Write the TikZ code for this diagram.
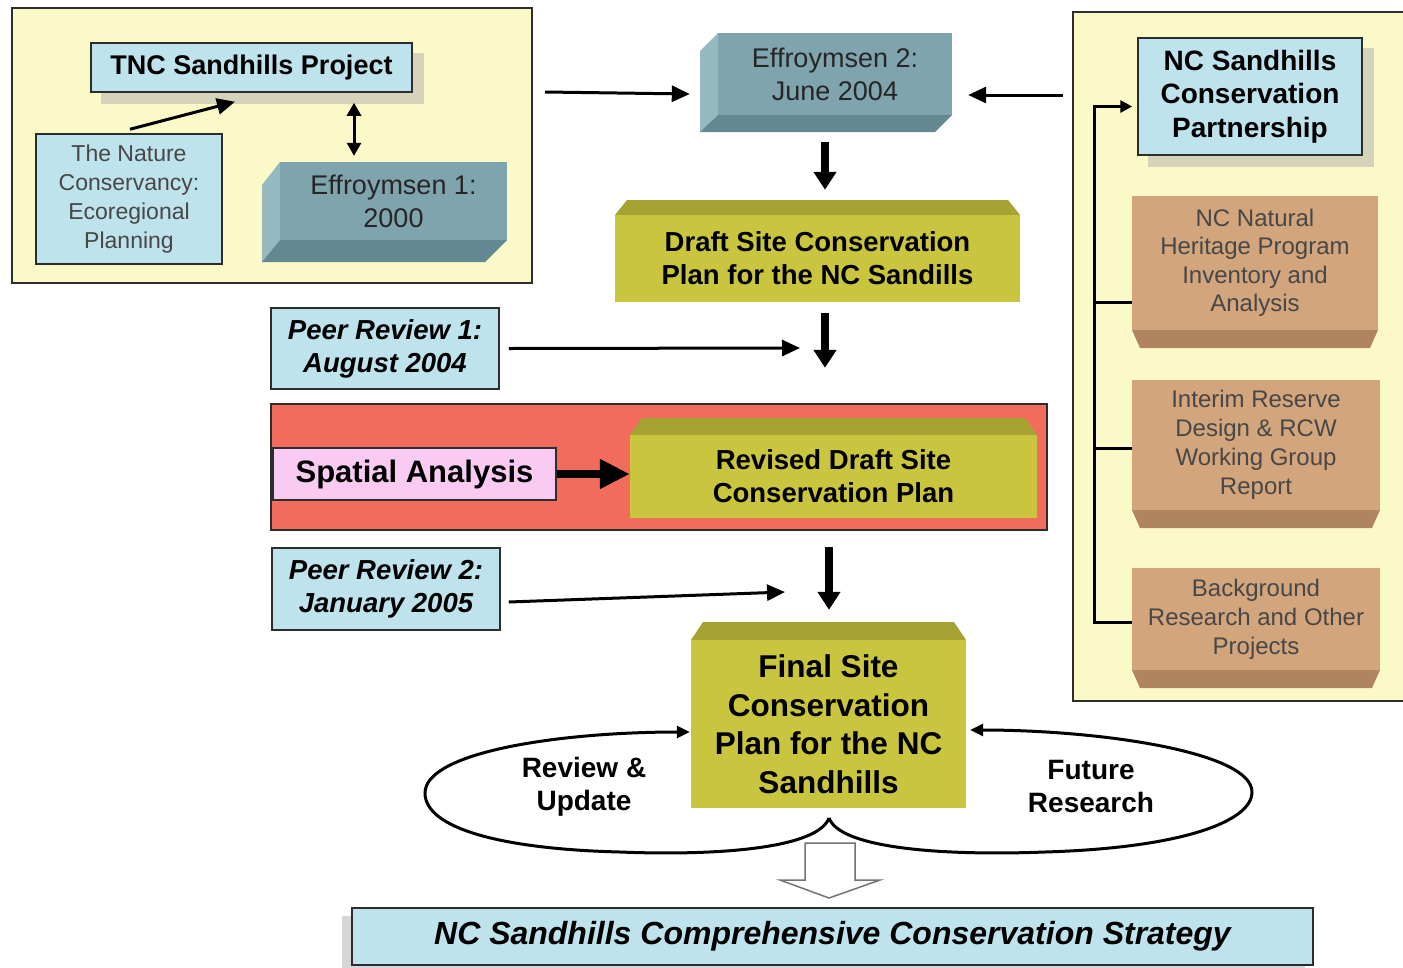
\documentclass[tikz,border=0pt]{standalone}
\usepackage{fontspec}
\setmainfont{Liberation Sans}
\usetikzlibrary{arrows.meta,calc}
\definecolor{panelY}{RGB}{252,249,201}
\definecolor{lblue}{RGB}{190,227,236}
\definecolor{effF}{RGB}{127,164,174}
\definecolor{effS}{RGB}{150,184,192}
\definecolor{effB}{RGB}{100,136,146}
\definecolor{oliveF}{RGB}{201,197,62}
\definecolor{oliveT}{RGB}{166,163,50}
\definecolor{tanF}{RGB}{211,165,124}
\definecolor{tanB}{RGB}{176,132,94}
\definecolor{redP}{RGB}{242,108,94}
\definecolor{pinkB}{RGB}{249,203,243}
\definecolor{edge}{RGB}{45,45,45}
\newcommand\myfs[2]{\fontsize{#1pt}{#2pt}\selectfont}
\begin{document}
\begin{tikzpicture}[x=1pt,y=-1pt,
  panel/.style={draw=edge,line width=1.5pt,fill=panelY,inner sep=0pt},
  box/.style={draw=edge,line width=1.5pt,inner sep=0pt,align=center},
  face/.style={inner sep=0pt,align=center},
  shadow/.style={fill=black!35,opacity=0.45},
  thinarr/.style={line width=3pt,-{Triangle[length=18pt,width=16pt]}},
  dblarr/.style={line width=3pt,{Triangle[length=13pt,width=14pt]}-{Triangle[length=13pt,width=14pt]}},
  thickarr/.style={line width=8pt,-{Triangle[length=18pt,width=22pt]}},
  looparr/.style={line width=3pt,-{Triangle[length=13pt,width=12pt]}},
  plain/.style={line width=3pt}]
\useasboundingbox (0,0) rectangle (1403,967);
\clip (0,0) rectangle (1403,967);
\fill[white] (0,0) rectangle (1403,967);

% panels
\node[panel,minimum width=520pt,minimum height=275pt] (lp) at (272,145.5) {};
\node[panel,minimum width=337pt,minimum height=689pt] (rp) at (1241.5,356.5) {};
\node[draw=edge,line width=1.5pt,fill=redP,inner sep=0pt,minimum width=776pt,minimum height=126pt] (rd) at (659,467) {};

% shadows
\fill[shadow] (101,53) rectangle (424,104);
\fill[shadow] (1148,48) rectangle (1374,167);
\fill[shadow] (342,916) rectangle (1305,970);

% left panel content
\node[box,fill=lblue,minimum width=321pt,minimum height=49pt,font=\bfseries\myfs{27}{32}] (tnc) at (251.5,67.5) {TNC Sandhills Project};
\node[box,fill=lblue,minimum width=186pt,minimum height=130pt,font=\myfs{23}{28.7},text=black!72] (tnco) at (129,199) {The Nature\\Conservancy:\\Ecoregional\\Planning};
\fill[effS] (262,185) -- (280,162) -- (280,240) -- (262,262) -- cycle;
\fill[effB] (262,262) -- (280,240) -- (507,240) -- (485,262) -- cycle;
\node[face,fill=effF,minimum width=227pt,minimum height=78pt,font=\myfs{27}{33},text=black!85] (eff1) at (393.5,201) {Effroymsen 1:\\2000};

% Effroymsen 2
\fill[effS] (700,51) -- (718,33) -- (718,115) -- (700,132) -- cycle;
\fill[effB] (700,132) -- (718,115) -- (952,115) -- (935,132) -- cycle;
\node[face,fill=effF,minimum width=234pt,minimum height=82pt,font=\myfs{27}{33},text=black!85] (eff2) at (835,74) {Effroymsen 2:\\June 2004};

% Draft
\fill[oliveT] (615,215) -- (627,200) -- (1008,200) -- (1020,215) -- cycle;
\node[face,fill=oliveF,minimum width=405pt,minimum height=87pt,font=\bfseries\myfs{27.5}{33}] (draft) at (817.5,258.5) {Draft Site Conservation\\Plan for the NC Sandills};

% Peer review 1
\node[box,fill=lblue,minimum width=228pt,minimum height=81pt,font=\bfseries\itshape\myfs{27.5}{33}] (peer1) at (385,348.5) {Peer Review 1:\\August 2004};

% Spatial / Revised
\node[box,fill=pinkB,minimum width=283pt,minimum height=52pt,font=\bfseries\myfs{31}{36}] (spatial) at (414.5,474) {Spatial Analysis};
\fill[oliveT] (630,435) -- (642,418) -- (1025,418) -- (1037,435) -- cycle;
\node[face,fill=oliveF,minimum width=407pt,minimum height=83pt,font=\bfseries\myfs{27.5}{33}] (rev) at (833.5,476.5) {Revised Draft Site\\Conservation Plan};

% Peer review 2
\node[box,fill=lblue,minimum width=228pt,minimum height=82pt,font=\bfseries\itshape\myfs{27.5}{33}] (peer2) at (386,589) {Peer Review 2:\\January 2005};

% Final
\fill[oliveT] (691,640) -- (703,622) -- (954,622) -- (966,640) -- cycle;
\node[face,fill=oliveF,minimum width=275pt,minimum height=168pt,font=\bfseries\myfs{31.5}{38.5}] (final) at (828.5,724) {Final Site\\Conservation\\Plan for the NC\\Sandhills};

\node[face,font=\bfseries\myfs{28}{33}] (review) at (584,787) {Review \&\\Update};
\node[face,font=\bfseries\myfs{28}{33}] (future) at (1091,786) {Future\\Research};

% bottom
\node[box,fill=lblue,minimum width=961pt,minimum height=57pt,font=\bfseries\itshape\myfs{32}{38}] (strat) at (832.5,936.5) {NC Sandhills Comprehensive Conservation Strategy};

% right panel content
\node[box,fill=lblue,minimum width=224pt,minimum height=117pt,font=\bfseries\myfs{28}{33.5}] (partner) at (1250,96.5) {NC Sandhills\\Conservation\\Partnership};
\fill[tanB] (1132,330) -- (1378,330) -- (1370,348) -- (1140,348) -- cycle;
\node[face,fill=tanF,minimum width=246pt,minimum height=134pt,font=\myfs{24}{28.5},text=black!72] (nhp) at (1255,263) {NC Natural\\Heritage Program\\Inventory and\\Analysis};
\fill[tanB] (1132,510) -- (1380,510) -- (1372,528) -- (1140,528) -- cycle;
\node[face,fill=tanF,minimum width=248pt,minimum height=130pt,font=\myfs{24}{29},text=black!72] (interim) at (1256,445) {Interim Reserve\\Design \& RCW\\Working Group\\Report};
\fill[tanB] (1132,670) -- (1380,670) -- (1372,688) -- (1140,688) -- cycle;
\node[face,fill=tanF,minimum width=248pt,minimum height=102pt,font=\myfs{24}{29},text=black!72] (backg) at (1256,619) {Background\\Research and Other\\Projects};

% connectors
\coordinate (dx) at (354,0);
\draw[thinarr] ([shift={(1,-4)}]tnco.north) -- ([shift={(-16.5,9)}]tnc.south);
\draw[dblarr,shorten <=10pt,shorten >=6pt] (tnc.south -| dx) -- (eff1.north -| dx);
\coordinate (s3) at (545,92);
\draw[thinarr] (s3) -- ([shift={(-28,20)}]eff2.west);
\coordinate (s4) at (1063,95);
\draw[thinarr] (s4) -- ([shift={(16,21)}]eff2.east);
\draw[thickarr] ([shift={(-10,27)}]eff2.south) -- ([shift={(7.5,-25)}]draft.north);
\draw[thickarr] ([shift={(7.5,11)}]draft.south) -- ([shift={(-8.5,-67)}]rev.north);
\coordinate (e7) at (800,348);
\draw[thinarr] ([shift={(9,0)}]peer1.east) -- (e7);
\draw[line width=8pt,-{Triangle[length=30pt,width=28pt]}] (spatial.east) -- (spatial.east -| rev.west);
\draw[thickarr] ([shift={(-4.5,29)}]rev.south) -- ([shift={(0.5,-30)}]final.north);
\coordinate (e10) at (785,592);
\draw[thinarr] ([shift={(8,13)}]peer2.east) -- (e10);

% loops
\coordinate (cusp) at (829,818);
\draw[looparr] (cusp) .. controls (818,848) and (720,856) .. (620,852)
  .. controls (500,849) and (425,828) .. (425,793)
  .. controls (425,752) and (560,732) .. ([shift={(-1,8)}]final.west);
\draw[looparr] (cusp) .. controls (840,848) and (940,856) .. (1045,852)
  .. controls (1180,848) and (1252,822) .. (1252,792)
  .. controls (1252,752) and (1100,730) .. ([shift={(4,6)}]final.east);

% hollow arrow
\draw[line width=1.5pt,draw=black!55,fill=white] (805,843) -- (855,843) -- (855,880) -- (880,880) -- (829,898) -- (780,880) -- (805,880) -- cycle;

% bracket
\coordinate (tr) at (1094,0);
\coordinate (bb) at ([shift={(0,3)}]backg.west);
\coordinate (pb) at ([shift={(-5,10)}]partner.west);
\coordinate (nb) at ([shift={(0,39)}]nhp.west);
\coordinate (ib) at ([shift={(0,3)}]interim.west);
\draw[line width=3pt,-{Triangle[length=12pt,width=12pt]}] (bb) -| (tr |- pb) -- (pb);
\draw[plain] (nb) -- (tr |- nb);
\draw[plain] (ib) -- (tr |- ib);
\end{tikzpicture}
\end{document}
